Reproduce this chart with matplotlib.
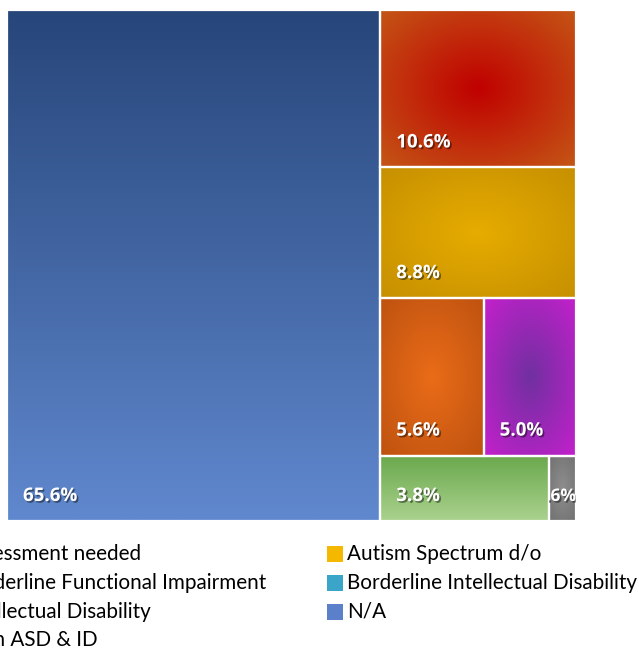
import numpy as np
import matplotlib.pyplot as plt
import matplotlib.patheffects as pe
from matplotlib.patches import Rectangle

# data
labels = ['N/A', 'Assessment needed', 'Autism Spectrum d/o', 'Borderline Functional Impairment',
          'Intellectual Disability', 'Both ASD & ID', 'Borderline Intellectual Disability']
values = [65.6, 10.6, 8.8, 5.6, 5.0, 3.8, 0.6]
# rows of the right-hand column (indices into values)
rows = [[1], [2], [3, 4], [5, 6]]

# legend entries (row-major as shown)
leg_left = ['Assessment needed', 'Borderline Functional Impairment', 'Intellectual Disability', 'Both ASD & ID']
leg_left_col = ['#C00000', '#E46C0A', '#7030A0', '#70AD47']
leg_right = ['Autism Spectrum d/o', 'Borderline Intellectual Disability', 'N/A']
leg_right_col = ['#F5B800', '#3BA5C9', '#5B7FC9']

# fill styles per cell: (kind, color_a, color_b)
styles = [
    ('linear', (39, 70, 122), (96, 136, 206)),
    ('radial', (192, 0, 0), (196, 86, 22)),
    ('radial', (230, 172, 0), (198, 144, 0)),
    ('radial', (234, 108, 24), (190, 82, 16)),
    ('radial', (112, 48, 160), (196, 32, 204)),
    ('linear', (106, 168, 76), (170, 210, 142)),
    ('radial', (142, 142, 142), (112, 112, 112)),
]

W, H = 639, 652
fig = plt.figure(figsize=(W / 100, H / 100), dpi=100)
ax = fig.add_axes([7 / W, 1 - 521 / H, 569 / W, 511 / H])
ax.set_xlim(0, 1)
ax.set_ylim(0, 1)
ax.axis('off')


def fill(kind, a, b, n=80):
    a = np.array(a) / 255.0
    b = np.array(b) / 255.0
    yy, xx = np.mgrid[0:n, 0:n] / (n - 1.0)
    if kind == 'linear':
        t = 1 - yy  # a at top, b at bottom (origin lower)
    else:
        t = np.sqrt(((xx - 0.5) * 2) ** 2 + ((yy - 0.5) * 2) ** 2) / np.sqrt(2)
        t = np.clip(t, 0, 1)
    return a + (b - a) * t[..., None]


def cell(i, x0, y0, w, h):
    kind, a, b = styles[i]
    ax.imshow(fill(kind, a, b), extent=(x0, x0 + w, y0, y0 + h), origin='lower',
              aspect='auto', interpolation='bilinear')
    rect = Rectangle((x0, y0), w, h, facecolor='none', edgecolor='white', lw=1.6, clip_on=False)
    ax.add_patch(rect)
    txt = f'{values[i]:.1f}%'
    if w * 569 < 60:
        # label too wide for the cell: right-aligned and clipped
        t = ax.annotate(txt, (x0 + w, y0), xytext=(0, 25), textcoords='offset pixels',
                        ha='right', va='center', color='white', fontsize=12.5,
                        fontweight='bold', family='Open Sans')
    else:
        t = ax.annotate(txt, (x0, y0), xytext=(16, 25), textcoords='offset pixels',
                        ha='left', va='center', color='white', fontsize=13.5,
                        fontweight='bold', family='Open Sans')
    t.set_path_effects([pe.withSimplePatchShadow(offset=(1.2, -1.2), shadow_rgbFace='black', alpha=0.45)])
    t.set_clip_path(rect)


total = sum(values)
w0 = values[0] / total
cell(0, 0, 0, w0, 1)
rest = total - values[0]
ytop = 1.0
for r in rows:
    rs = sum(values[i] for i in r)
    h = rs / rest
    x = w0
    for i in r:
        w = (1 - w0) * values[i] / rs
        cell(i, x, ytop - h, w, h)
        x += w
    ytop -= h

# legend (the left column is cut off at the figure edge)
row_y = [554, 583, 612, 640]
lfs = 14.9
renderer = fig.canvas.get_renderer()
probe = fig.text(0, 0, leg_left[1], fontsize=lfs, family='Lato')
wlong = probe.get_window_extent(renderer).width
probe.remove()
xleft = 266 - wlong
for k, lab in enumerate(leg_left):
    fig.patches.append(Rectangle(((xleft - 20) / W, 1 - (row_y[k] + 8) / H), 16 / W, 16 / H,
                                 transform=fig.transFigure, facecolor=leg_left_col[k],
                                 edgecolor='none'))
    fig.text(xleft / W, 1 - row_y[k] / H, lab, ha='left', va='center',
             fontsize=lfs, family='Lato', color='black')
for k, lab in enumerate(leg_right):
    fig.patches.append(Rectangle((327 / W, 1 - (row_y[k] + 8) / H), 16 / W, 16 / H,
                                 transform=fig.transFigure, facecolor=leg_right_col[k],
                                 edgecolor='none'))
    fig.text(347 / W, 1 - row_y[k] / H, lab, ha='left', va='center',
             fontsize=lfs, family='Lato', color='black')

fig.savefig('out.png', dpi=100)
